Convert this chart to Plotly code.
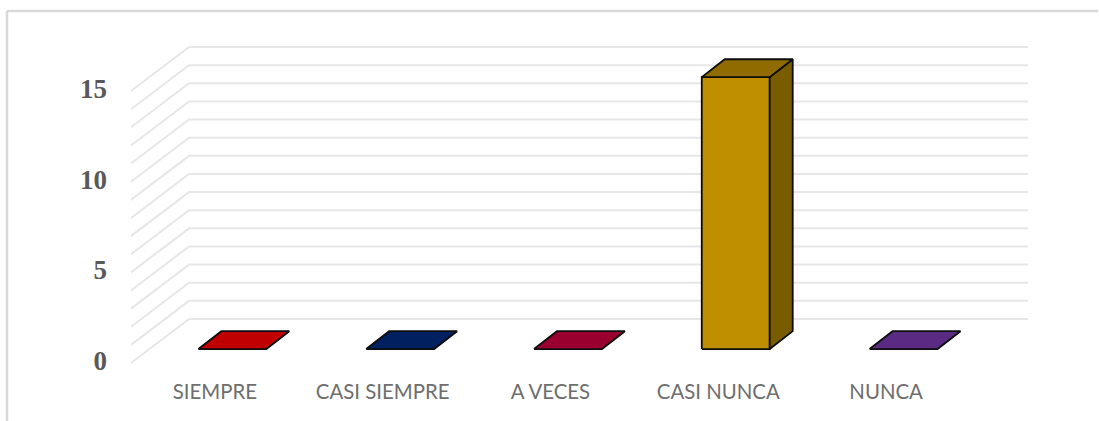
import plotly.graph_objects as go

categories = ["SIEMPRE", "CASI SIEMPRE", "A VECES", "CASI NUNCA", "NUNCA"]
values = [0, 0, 0, 15, 0]
y_ticks = [0, 5, 10, 15]
grid_levels = list(range(0, 16))

front_colors = ["#c00000", "#002060", "#990030", "#bf8f00", "#5b2a82"]
top_colors = ["#c00000", "#002060", "#990030", "#8f6b00", "#5b2a82"]
side_colors = ["#900000", "#001848", "#730024", "#7a5c00", "#441f62"]

# oblique projection, in axis units
WALL_DX, WALL_DY = 0.3457, 2.427
BAR_OFF_X, BAR_OFF_Y = 0.104, 0.77
BAR_DX, BAR_DY = 0.137, 0.985
BAR_W = 0.405

PX_X, PX_Y = 167.8, 18.13
LEFT, RIGHT, TOP, BOTTOM = 128, 1032, 44, 366
LABEL_NUDGE = 2.5  # pixels the y tick labels sit above their gridline end
x_range = [-0.5 - (131 - LEFT) / PX_X, -0.5 + (RIGHT - 131) / PX_X]
y_range = [-(BOTTOM - 363) / PX_Y, (363 - TOP) / PX_Y]

fig = go.Figure()


def poly(xs, ys, fill, width=1.8):
    fig.add_trace(go.Scatter(
        x=xs, y=ys, mode="lines", fill="toself", fillcolor=fill,
        line=dict(color="#0d0d0d", width=width),
        hoverinfo="skip", showlegend=False))


for lv in grid_levels:
    fig.add_trace(go.Scatter(
        x=[-0.5, -0.5 + WALL_DX, 4.5 + WALL_DX],
        y=[lv, lv + WALL_DY, lv + WALL_DY],
        mode="lines", line=dict(color="#e7e7e7", width=2),
        hoverinfo="skip", showlegend=False))

for i, v in enumerate(values):
    x0 = i + BAR_OFF_X - BAR_W / 2
    x1 = x0 + BAR_W
    y0 = BAR_OFF_Y
    y1 = BAR_OFF_Y + v
    if v > 0:
        poly([x0, x1, x1, x0, x0], [y0, y0, y1, y1, y0], front_colors[i])
        poly([x1, x1 + BAR_DX, x1 + BAR_DX, x1, x1],
             [y0, y0 + BAR_DY, y1 + BAR_DY, y1, y0], side_colors[i])
    poly([x0, x1, x1 + BAR_DX, x0 + BAR_DX, x0],
         [y1, y1, y1 + BAR_DY, y1 + BAR_DY, y1], top_colors[i])

# carrier trace for the axis that holds the y tick labels
fig.add_trace(go.Scatter(x=[None], y=[None], yaxis="y2", mode="lines",
                         hoverinfo="skip", showlegend=False))

PW, PH = RIGHT - LEFT, BOTTOM - TOP
border = dict(color="#d9d9d9", width=2.5)


def paper_x(px):
    return (px - LEFT) / PW


def paper_y(px):
    return (BOTTOM - px) / PH


fig.update_layout(
    width=1099, height=421, autosize=False,
    margin=dict(l=LEFT, r=1099 - RIGHT, t=TOP, b=421 - BOTTOM, pad=0),
    paper_bgcolor="white", plot_bgcolor="white", showlegend=False,
    xaxis=dict(range=x_range, tickmode="array",
               tickvals=list(range(len(categories))), ticktext=categories,
               showgrid=False, zeroline=False, showline=False, ticks="",
               ticklabelstandoff=12,
               tickfont=dict(family="Lato", size=20.4, color="#6e6e6e")),
    yaxis=dict(range=y_range, showticklabels=False,
               showgrid=False, zeroline=False, showline=False, ticks=""),
    yaxis2=dict(overlaying="y", side="left",
                range=[r - LABEL_NUDGE / PX_Y for r in y_range],
                tickmode="array", tickvals=y_ticks,
                showgrid=False, zeroline=False, showline=False, ticks="",
                ticklabelstandoff=20,
                tickfont=dict(family="Liberation Serif", size=27, color="#595959",
                              weight="bold")),
    shapes=[
        dict(type="line", xref="paper", yref="paper",
             x0=paper_x(7), x1=paper_x(7), y0=paper_y(421), y1=paper_y(11),
             line=border),
        dict(type="line", xref="paper", yref="paper",
             x0=paper_x(7), x1=paper_x(1098), y0=paper_y(11), y1=paper_y(11),
             line=border),
    ],
)

fig.write_html(
    "out.html",
    config={"displayModeBar": False},
    post_script="document.body.style.margin='0';document.body.style.overflow='hidden';",
)
